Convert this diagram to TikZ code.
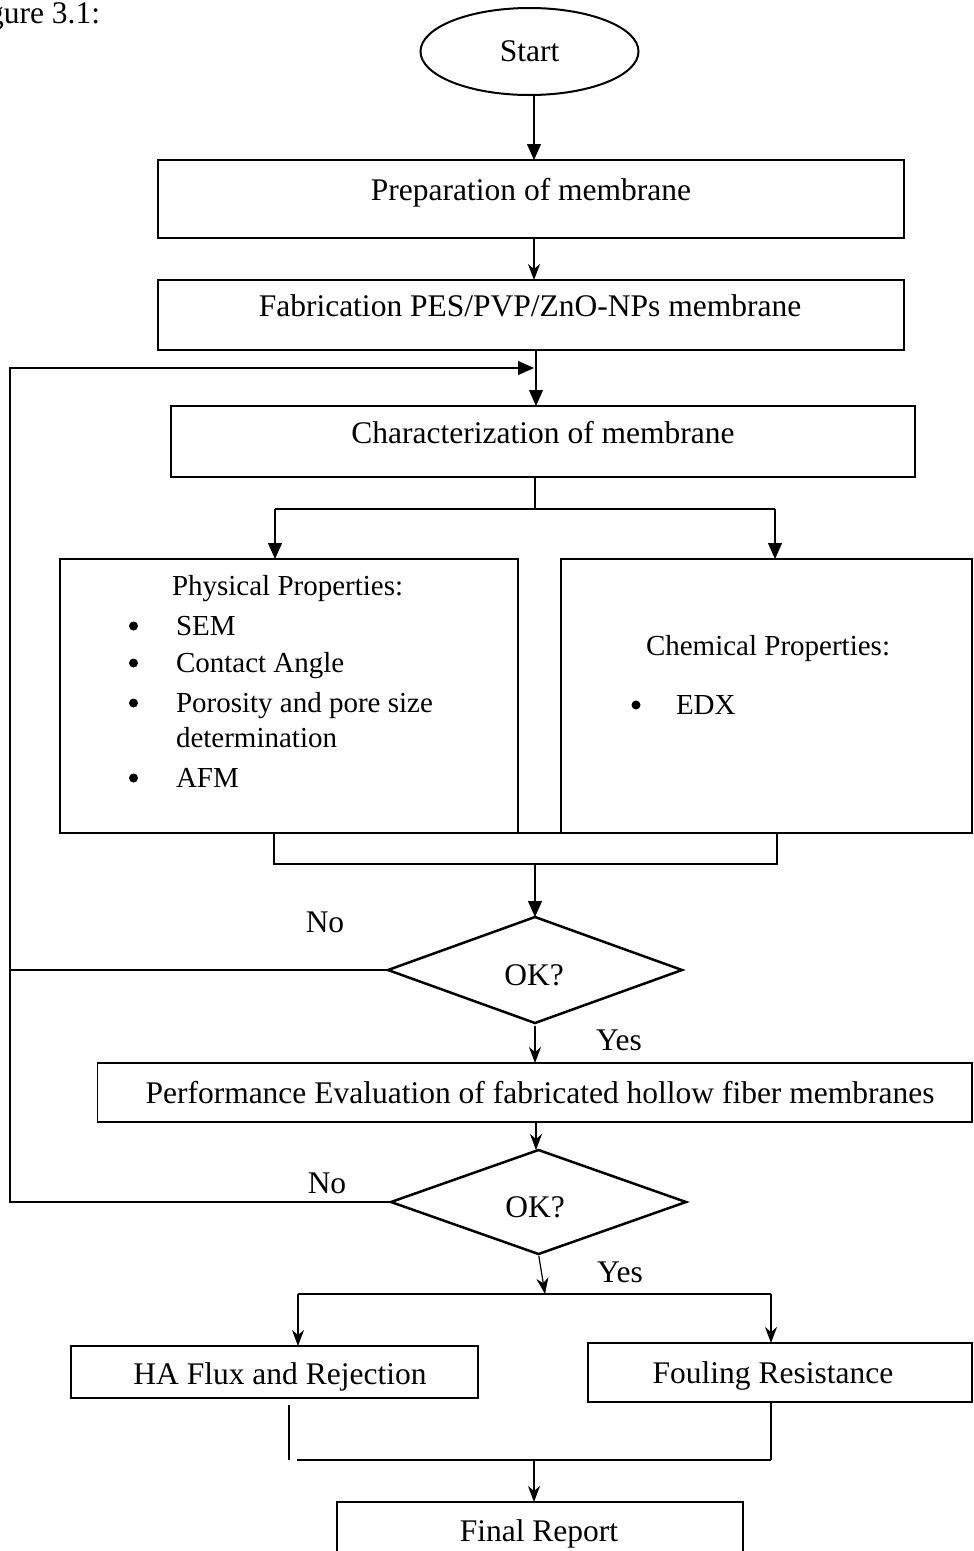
\documentclass[tikz,border=0pt]{standalone}
\usepackage{fontspec}
\setmainfont{Liberation Serif}
\usetikzlibrary{shapes.geometric,arrows.meta}
\begin{document}
\begin{tikzpicture}[x=1pt,y=-1pt,
  every node/.style={inner sep=0pt,outer sep=0pt},
  big/.style={font=\fontsize{31.5}{38}\selectfont},
  small/.style={font=\fontsize{29}{35}\selectfont},
  box/.style={draw,line width=1.3pt,rectangle},
  conn/.style={line width=1.2pt},
  tri/.style={conn,-{Triangle[length=16pt,width=14pt]}},
  stl/.style={conn,-{Stealth[length=16pt,width=12pt,inset=5pt]}},
  dia/.style={draw,diamond,line width=2.5pt,minimum width=294pt,minimum height=106pt},
  dot/.style={circle,fill=black,minimum size=9pt},
]
\useasboundingbox (0,0) rectangle (974,1551);

% caption (cut at left edge, as in the reference)
\node[big,anchor=base east] (fig) at (100,23) {Figure 3.1:};

% axis helpers
\coordinate (ax) at (534,0);
\coordinate (ax2) at (536,0);

% nodes
\node[draw,ellipse,line width=2pt,minimum width=218pt,minimum height=87pt,big] (start) at (529.5,51.5) {Start};

\node[box,minimum width=746pt,minimum height=78pt] (prep) at (531,199) {};
\node[big,anchor=base] (preptxt) at (531,200) {Preparation of membrane};

\node[box,minimum width=746pt,minimum height=70pt] (fab) at (531,315) {};
\node[big,anchor=base] (fabtxt) at (530,316) {Fabrication PES/PVP/ZnO-NPs membrane};

\node[box,minimum width=744pt,minimum height=71pt] (char) at (543,441.5) {};
\node[big,anchor=base] (chartxt) at (543,443) {Characterization of membrane};

\node[box,minimum width=458pt,minimum height=274pt] (phys) at (289,696) {};
\node[box,minimum width=411pt,minimum height=274pt] (chem) at (766.5,696) {};

\node[small,anchor=base west] (physh) at (172,595) {Physical Properties:};
\node[dot] (pb1) at (133.5,626) {};
\node[small,anchor=base west] (pi1) at (176,635) {SEM};
\node[dot] (pb2) at (133.5,663) {};
\node[small,anchor=base west] (pi2) at (176,672) {Contact Angle};
\node[dot] (pb3) at (133.5,703) {};
\node[small,anchor=base west] (pi3) at (176,712) {Porosity and pore size};
\node[small,anchor=base west] (pi3b) at (176,747) {determination};
\node[dot] (pb4) at (133.5,778) {};
\node[small,anchor=base west] (pi4) at (176,787) {AFM};

\node[small,anchor=base west] (chemh) at (646,655) {Chemical Properties:};
\node[dot] (cb1) at (636,705) {};
\node[small,anchor=base west] (ci1) at (676,714) {EDX};

\node[box,minimum width=503pt,minimum height=31pt] (merge) at (525.5,848.5) {};

\node[dia] (ok1) at (535,970) {};
\node[big,anchor=base] (ok1txt) at (534,985) {OK?};
\node[big,anchor=base] (no1) at (325,932) {No};
\node[big,anchor=base] (yes1) at (619,1050) {Yes};

\node[box,minimum width=874.5pt,minimum height=59pt] (perf) at (534.75,1092.5) {};
\node[big,anchor=base] (perftxt) at (540,1103) {Performance Evaluation of fabricated hollow fiber membranes};

\node[dia,minimum width=295pt,minimum height=104pt] (ok2) at (538.5,1202) {};
\node[big,anchor=base] (ok2txt) at (535,1217) {OK?};
\node[big,anchor=base] (no2) at (327,1193) {No};
\node[big,anchor=base] (yes2) at (620,1282) {Yes};

\node[box,minimum width=407pt,minimum height=52pt] (ha) at (274.5,1372) {};
\node[big,anchor=base] (hatxt) at (280,1384) {HA Flux and Rejection};
\node[box,minimum width=384pt,minimum height=59pt] (foul) at (780,1372.5) {};
\node[big,anchor=base] (foultxt) at (773,1383) {Fouling Resistance};

\node[box,minimum width=406pt,minimum height=90pt] (final) at (540,1547) {};
\node[big,anchor=base] (finaltxt) at (539,1541) {Final Report};

% connectors
\draw[tri] (start.south -| ax) -- (prep.north -| ax);
\draw[stl] (prep.south -| ax) -- (fab.north -| ax);
\draw[tri] (fab.south -| ax2) -- (char.north -| ax2);

% loop back
\coordinate (lpTop) at (10,368);
\coordinate (lpTip) at (534,368);
\draw[conn] (ok1.west) -- (ok1.west -| lpTop);
\draw[tri] (ok2.west) -- (ok2.west -| lpTop) -- (lpTop) -- (lpTip);

% branch 1
\coordinate (b1) at (535,509);
\coordinate (b1L) at (275,509);
\coordinate (b1R) at (775,509);
\draw[conn] (char.south -| b1) -- (b1);
\draw[conn] (b1L) -- (b1R);
\draw[tri] (b1L) -- (phys.north -| b1L);
\draw[tri] (b1R) -- (chem.north -| b1R);

\draw[tri] (merge.south -| ok1.north) -- (ok1.north);
\draw[stl,shorten <=3pt] (ok1.south) -- (perf.north -| ok1.south);
\draw[stl] (perf.south -| ax2) -- (ok2.north -| ax2);

% branch 2
\coordinate (b2) at (545,1294);
\coordinate (b2L) at (298,1294);
\coordinate (b2R) at (771,1294);
\draw[stl,shorten <=2pt] (ok2.south) -- (b2);
\draw[conn] (b2L) -- (b2R);
\draw[stl] (b2L) -- (ha.north -| b2L);
\draw[stl] (b2R) -- (foul.north -| b2R);

% merge 2
\coordinate (m1) at (289,1405);
\coordinate (m2) at (289,1460);
\coordinate (m3) at (297,1460);
\coordinate (m4) at (771,1460);
\coordinate (m5) at (534,1460);
\draw[conn] (m1) -- (m2);
\draw[conn] (m3) -- (m4);
\draw[conn] (foul.south -| m4) -- (m4);
\draw[stl] (m5) -- (final.north -| m5);
\end{tikzpicture}
\end{document}
